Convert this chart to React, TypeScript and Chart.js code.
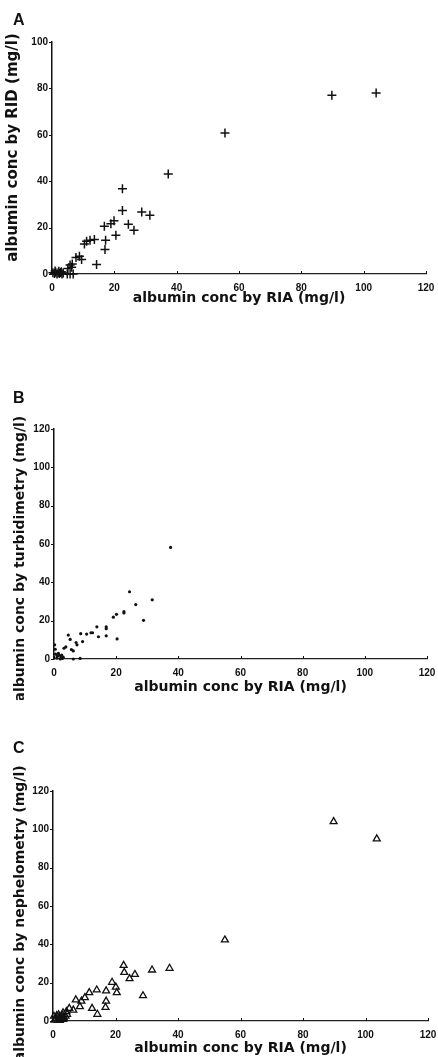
import React, { useEffect, useRef } from "react";
import { Chart, registerables } from "chart.js";

Chart.register(...registerables);

// ---------- data ----------
const xTickValues = [0, 20, 40, 60, 80, 100, 120];

// Panel A: RIA (x) vs RID (y)
const ridRiaX = [104.0, 89.8, 55.5, 37.3, 22.6, 22.6, 28.8, 31.4, 19.9, 18.9, 16.8, 24.5, 26.3, 20.5, 17.2, 17.0, 13.6, 12.2, 11.1, 10.4, 14.3, 8.8, 9.5, 7.7, 6.5, 5.8, 6.3, 5.1, 6.8, 5.8, 4.9, 0.3, 0.8, 1.2, 1.6, 2.0, 2.4, 2.8, 3.2, 3.6, 1.0, 2.2, 3.0];
const ridY = [78.0, 77.0, 60.8, 43.1, 36.7, 27.4, 26.7, 25.3, 22.9, 21.7, 20.6, 21.4, 18.9, 16.7, 14.6, 10.6, 14.9, 14.6, 14.1, 12.9, 4.1, 7.7, 6.3, 7.1, 4.3, 3.9, 2.9, 2.4, 0, 0, 0, 0.5, 0.2, 0.8, 0, 0.5, 0.2, 0.7, 0, 0.4, 1.3, 1.2, 1.0];

// Panel B: RIA (x) vs turbidimetry (y)
const turbRiaX = [37.5, 24.3, 31.6, 26.3, 28.8, 22.5, 22.5, 20.1, 19.1, 20.3, 16.8, 16.8, 16.8, 14.3, 13.8, 12.4, 11.9, 10.5, 8.6, 9.2, 7.1, 7.4, 5.6, 6.2, 5.2, 4.6, 3.8, 3.2, 0.2, 0.4, 0.5, 1.1, 1.6, 2.2, 2.7, 0.9, 2.0, 6.2, 8.4, 1.4, 2.5, 3.0];
const turbY = [58.2, 35.1, 30.9, 28.4, 20.2, 24.7, 24.0, 23.3, 21.8, 10.5, 16.8, 15.8, 12.1, 11.6, 16.8, 13.7, 13.7, 13.0, 13.2, 9.1, 8.6, 7.4, 4.9, 4.2, 10.2, 12.5, 6.3, 5.6, 7.4, 5.1, 2.5, 1.5, 2.2, 1.2, 0.3, 0.5, 0, 0, 0.3, 3.0, 2.0, 0.8];

// Panel C: RIA (x) vs nephelometry (y)
const nephRiaX = [89.8, 103.6, 55.0, 37.3, 31.7, 22.6, 22.8, 24.5, 26.2, 28.8, 18.9, 20.1, 20.4, 17.0, 17.0, 16.8, 14.0, 12.5, 14.2, 11.6, 10.2, 9.1, 7.3, 8.6, 6.5, 5.2, 4.3, 3.2, 0.5, 1.0, 1.5, 2.0, 2.5, 3.0, 3.5, 4.0, 4.5, 1.2, 2.2, 3.3, 0.3, 2.8, 1.8];
const nephY = [104.0, 95.0, 42.3, 27.5, 26.6, 29.0, 25.4, 22.1, 24.3, 13.2, 20.2, 17.7, 14.8, 15.7, 10.4, 7.1, 16.2, 6.6, 3.5, 14.8, 12.2, 10.4, 11.0, 7.5, 5.7, 6.6, 4.9, 4.3, 0.5, 1.5, 0.5, 2.0, 1.0, 3.0, 1.5, 2.5, 3.5, 2.8, 0.3, 0.8, 2.5, 1.8, 3.2];

const xTitle = "albumin conc by RIA (mg/l)";
const yTitleA = "    albumin conc by RID (mg/l)";
const yTitleB = "albumin conc by turbidimetry (mg/l)      ";
const yTitleC = "albumin conc by nephelometry (mg/l)   ";

// ---------- styling ----------
const INK = "#111";
const tickFont = { family: "'Liberation Sans', Arial, sans-serif", weight: "bold" as const, size: 10 };
const titleFamily = "'DejaVu Sans', sans-serif";

type Panel = {
  label: string;
  labelTop: number;
  top: number;
  h: number;
  xs: number[];
  ys: number[];
  yMax: number;
  yTitle: string;
  yTitleSize: number;
  yTitlePad: number;
  padTop: number;
  padRight: number;
  padBottom: number;
  yAxisW: number;
  xAxisH: number;
  pointStyle: string;
  radius: number;
  borderWidth: number;
  fill: string;
};

const panels: Panel[] = [
  {
    label: "A", labelTop: 10, top: 0, h: 330, xs: ridRiaX, ys: ridY, yMax: 100,
    yTitle: yTitleA, yTitleSize: 15, yTitlePad: 4.5,
    padTop: 42, padRight: 12, padBottom: 23, yAxisW: 52, xAxisH: 33,
    pointStyle: "cross", radius: 4.5, borderWidth: 1.5, fill: INK,
  },
  {
    label: "B", labelTop: 388, top: 340, h: 360, xs: turbRiaX, ys: turbY, yMax: 120,
    yTitle: yTitleB, yTitleSize: 14, yTitlePad: 11.5,
    padTop: 89, padRight: 11, padBottom: 4, yAxisW: 54, xAxisH: 37,
    pointStyle: "circle", radius: 1.6, borderWidth: 0, fill: INK,
  },
  {
    label: "C", labelTop: 738, top: 700, h: 357, xs: nephRiaX, ys: nephY, yMax: 120,
    yTitle: yTitleC, yTitleSize: 14, yTitlePad: 11.5,
    padTop: 91, padRight: 10, padBottom: 0, yAxisW: 53, xAxisH: 36,
    pointStyle: "triangle", radius: 4, borderWidth: 1.3, fill: "rgba(0,0,0,0)",
  },
];

const tickMarks = {
  id: "tickMarks",
  afterDraw(chart: any) {
    const { ctx, scales } = chart;
    const x = scales.x;
    const y = scales.y;
    ctx.save();
    ctx.strokeStyle = INK;
    ctx.lineWidth = 1;
    x.ticks.forEach((t: any) => {
      const px = Math.round(x.getPixelForValue(t.value)) + 0.5;
      ctx.beginPath();
      ctx.moveTo(px, y.bottom);
      ctx.lineTo(px, y.bottom - 3);
      ctx.stroke();
    });
    y.ticks.forEach((t: any) => {
      const py = Math.round(y.getPixelForValue(t.value)) + 0.5;
      ctx.beginPath();
      ctx.moveTo(x.left, py);
      ctx.lineTo(x.left - 3, py);
      ctx.stroke();
    });
    ctx.restore();
  },
};

function makeConfig(p: Panel): any {
  return {
    type: "scatter",
    data: {
      datasets: [
        {
          data: p.xs.map((x, i) => ({ x, y: p.ys[i] })),
          pointStyle: p.pointStyle,
          pointRadius: p.radius,
          pointBorderWidth: p.borderWidth,
          borderColor: INK,
          backgroundColor: p.fill,
          pointBorderColor: INK,
          pointBackgroundColor: p.fill,
          clip: false,
        },
      ],
    },
    options: {
      animation: false,
      responsive: false,
      events: [],
      layout: { padding: { left: 0, right: p.padRight, top: p.padTop, bottom: p.padBottom } },
      plugins: { legend: { display: false }, tooltip: { enabled: false } },
      scales: {
        x: {
          type: "linear",
          min: 0,
          max: 120,
          afterBuildTicks: (s: any) => {
            s.ticks = xTickValues.map((v) => ({ value: v }));
          },
          afterFit: (s: any) => {
            s.height = p.xAxisH;
            s.paddingLeft = 0;
            s.paddingRight = 0;
          },
          ticks: { font: tickFont, color: INK, padding: 8, maxRotation: 0, autoSkip: false },
          grid: { display: false, drawTicks: false },
          border: { display: true, color: "#222", width: 1.2, dash: [7, 3] },
          title: {
            display: true,
            text: xTitle,
            color: INK,
            font: { family: titleFamily, weight: "bold", size: 14 },
            padding: { top: 0, bottom: 0 },
          },
        },
        y: {
          type: "linear",
          min: 0,
          max: p.yMax,
          ticks: { stepSize: 20, font: tickFont, color: INK, padding: 4 },
          afterFit: (s: any) => {
            s.width = p.yAxisW;
            s.paddingTop = 0;
            s.paddingBottom = 0;
          },
          grid: { display: false, drawTicks: false },
          border: { display: true, color: INK, width: 1.5 },
          title: {
            display: true,
            text: p.yTitle,
            color: INK,
            font: { family: titleFamily, weight: "bold", size: p.yTitleSize },
            padding: { top: p.yTitlePad, bottom: 0 },
          },
        },
      },
    },
    plugins: [tickMarks],
  };
}

function PanelChart({ p }: { p: Panel }) {
  const ref = useRef<HTMLCanvasElement>(null);
  useEffect(() => {
    const chart = new Chart(ref.current as HTMLCanvasElement, makeConfig(p));
    return () => chart.destroy();
  }, [p]);
  return (
    <>
      <canvas
        ref={ref}
        width={438}
        height={p.h}
        style={{ position: "absolute", left: 0, top: p.top, width: 438, height: p.h }}
      />
      <div
        style={{
          position: "absolute",
          left: 13,
          top: p.labelTop,
          fontFamily: "'Liberation Sans', Arial, sans-serif",
          fontWeight: "bold",
          fontSize: 16,
          lineHeight: "20px",
          color: INK,
        }}
      >
        {p.label}
      </div>
    </>
  );
}

export default function App() {
  return (
    <div
      style={{
        position: "absolute",
        left: 0,
        top: 0,
        width: 438,
        height: 1057,
        background: "#fff",
        overflow: "hidden",
      }}
    >
      {panels.map((p) => (
        <PanelChart key={p.label} p={p} />
      ))}
    </div>
  );
}
